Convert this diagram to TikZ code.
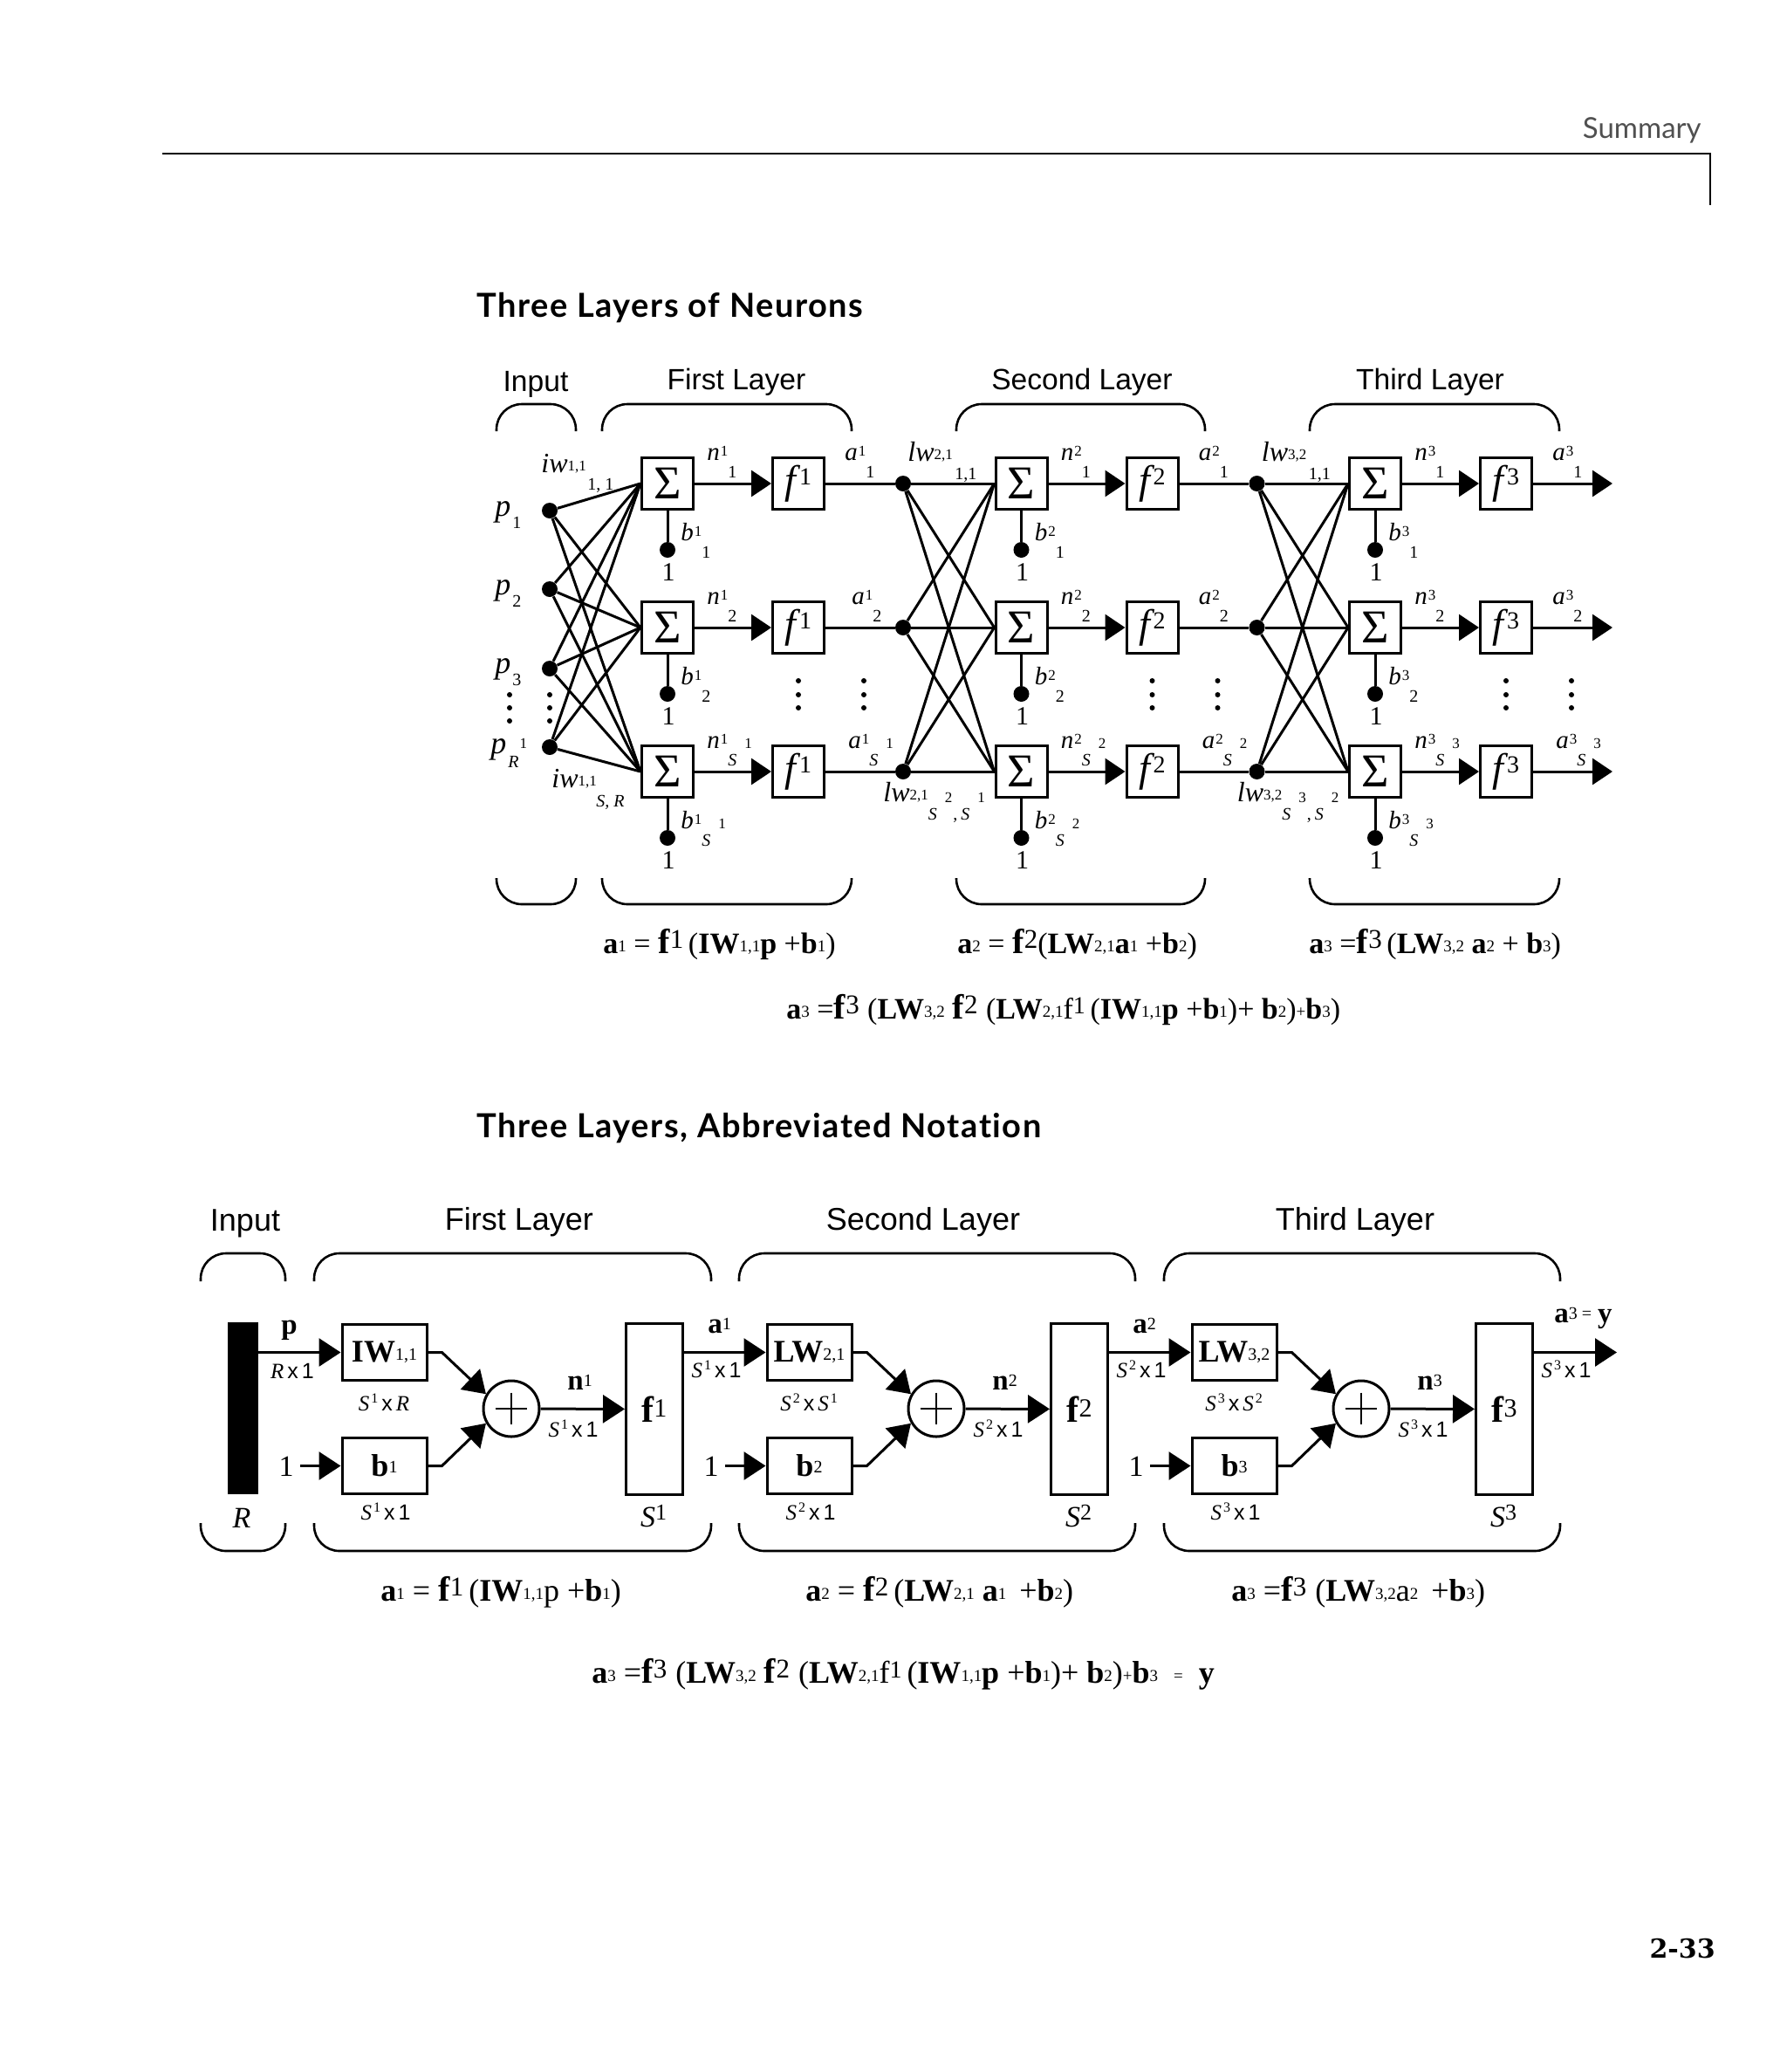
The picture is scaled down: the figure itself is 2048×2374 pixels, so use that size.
\documentclass[tikz,border=0pt]{standalone}
\usepackage{fontspec}
\setmainfont{Liberation Serif}
\setsansfont{Liberation Sans}
\newfontfamily\titlefont[LetterSpace=4,Ligatures=CommonOff]{Lato}
\newfontfamily\headfont{Lato}
\newfontfamily\pagefont{DejaVu Serif}
\usepackage{tikz}
\usetikzlibrary{arrows.meta,positioning,calc}
\definecolor{headgray}{RGB}{80,80,80}
% label pieces
\newcommand{\supsz}{\fontsize{8.5}{8.5}\selectfont\upshape}
\newcommand{\subsz}{\fontsize{10}{10}\selectfont}
\newcommand{\ess}[1]{\textit{S}\hspace{4.5pt}\raisebox{10pt}{\supsz #1}}
\newcommand{\netlab}[3]{\textit{#1}\hspace{.5pt}\raisebox{2.5pt}{\supsz #2}\raisebox{-10pt}{\subsz #3}}
\newcommand{\dimS}[1]{\textit{S}\hspace{1pt}\raisebox{4.5pt}{\fontsize{8}{8}\selectfont #1}}
\newcommand{\dimx}{\hspace{2pt}{\sffamily x}\hspace{2pt}}
\newcommand{\dimone}{{\sffamily 1}}
\newcommand{\ei}[1]{\raisebox{1pt}{\fontsize{9.5}{9.5}\selectfont\mdseries #1}}
\newcommand{\bigf}[1]{{\fontsize{20}{20}\selectfont\textbf{f}}\raisebox{3pt}{\fontsize{15.5}{15.5}\selectfont\mdseries #1}}

\begin{document}
\begin{tikzpicture}[x=.5pt,y=-.5pt,>=Stealth,
  wire/.style={line width=1.5pt},
  headtip/.style={-{Triangle[length=11.5pt,width=15pt]},line width=1.5pt},
  bigtip/.style={-{Triangle[length=12.5pt,width=16pt]},line width=1.5pt},
  brace/.style={line width=1.3pt,rounded corners=14.5pt},
  netbox/.style={draw,line width=1.5pt,inner sep=0pt,minimum size=29.5pt},
  blkbox/.style={draw,line width=1.5pt,inner sep=0pt,minimum width=48.5pt,minimum height=32pt,font=\fontsize{18}{18}\selectfont\bfseries},
  dot/.style={circle,fill=black,inner sep=0pt,minimum size=9pt},
  lab/.style={inner sep=0pt,anchor=base west,font=\fontsize{14.5}{14.5}\selectfont},
  wlab/.style={inner sep=0pt,anchor=base west,font=\fontsize{16}{16}\selectfont},
  sublab/.style={inner sep=0pt,anchor=base west,font=\subsz},
  one/.style={inner sep=0pt,font=\fontsize{15}{15}\selectfont},
  layerhead/.style={inner sep=0pt,font=\fontsize{16.8}{16.8}\selectfont\sffamily},
  layerhead2/.style={inner sep=0pt,font=\fontsize{18}{18}\selectfont\sffamily},
  dimlab/.style={inner sep=0pt,font=\fontsize{12.5}{12.5}\selectfont},
  boldlab/.style={inner sep=0pt,anchor=base west,font=\fontsize{16.5}{16.5}\selectfont\bfseries},
  eqn/.style={inner sep=0pt,anchor=base west,font=\fontsize{17}{17}\selectfont\bfseries},
  eqnb/.style={inner sep=0pt,anchor=base west,font=\fontsize{18}{18}\selectfont\bfseries},
  title/.style={inner sep=0pt,anchor=base west,font=\fontsize{19}{19}\selectfont\titlefont\bfseries}]
  \useasboundingbox (0,0) rectangle (2048,2374);
  % page furniture
  \node[inner sep=0pt,anchor=base east,text=headgray,font=\fontsize{16.5}{16.5}\selectfont\headfont] (summary) at (1950,158) {Summary};
  \draw[line width=.7pt] (186,176) -- (1960,176) -- (1960,235);
  \node[title] (title1) at (546,363) {Three Layers of Neurons};
  \node[title] (title2) at (546,1303) {Three Layers, Abbreviated Notation};
  \node[inner sep=0pt,anchor=base east,font=\fontsize{15}{15}\selectfont\pagefont\bfseries] (page) at (1966,2243) {2-33};

  % full network
  \node[layerhead] (hin) at (614,440) {Input};
  \node[layerhead] (h1) at (844,438) {First Layer};
  \node[layerhead] (h2) at (1240,438) {Second Layer};
  \node[layerhead] (h3) at (1639,438) {Third Layer};
  \foreach \xa/\xb in {569/660,690/976,1096/1381,1501/1787}{
    \draw[brace] (\xa,494) -- (\xa,463) -- (\xb,463) -- (\xb,494);
    \draw[brace] (\xa,1006) -- (\xa,1036) -- (\xb,1036) -- (\xb,1006);
  }
  \foreach \l [evaluate=\l as \dx using (\l-1)*405.5] in {1,2,3}{
    \foreach \r/\y/\ax/\tag in {1/554/968/1,2/719/968/2,3/884/972/{\ess{\l}}}{
      \pgfmathsetmacro{\adj}{and(\l==1,\r==2)?8:0}
      \node[netbox,font=\fontsize{27}{27}\selectfont] (s\l\r) at (765+\dx,\y) {Σ};
      \node[netbox,font=\fontsize{23}{23}\selectfont] (f\l\r) at (915+\dx,\y) {\textit{f}\hspace{-1pt}\raisebox{5pt}{\fontsize{14}{14}\selectfont\l}};
      \node[dot] (b\l\r) at (765+\dx,\y+76) {};
      \node[one] (u\l\r) at (766+\dx,\y+102) {1};
      \draw[wire] (s\l\r) -- (b\l\r);
      \draw[headtip] (s\l\r) -- (f\l\r);
      \node[lab] (n\l\r) at (810+\dx,\y-27) {\netlab{n}{\l}{\tag}};
      \node[lab] (a\l\r) at (\ax+\adj+\dx,\y-27) {\netlab{a}{\l}{\tag}};
      \node[lab] (bl\l\r) at (780+\dx,\y+65) {\netlab{b}{\l}{\tag}};
    }
    \foreach \x in {915,990}\foreach \y in {780,796,811}{\fill (\x+\dx,\y) circle[radius=3];}
  }
  % input dots
  \node[dot] (p1) at (630,585) {};
  \node[dot] (p2) at (630,675) {};
  \node[dot] (p3) at (630,766) {};
  \node[dot] (pR) at (630,856) {};
  \foreach \x in {584,630}\foreach \y in {796,811,826}{\fill (\x,\y) circle[radius=3];}
  \foreach \i in {p1,p2,p3,pR}\foreach \r in {1,2,3}{\draw[wire] (\i) -- (s1\r.west);}
  \node[wlab,font=\fontsize{18}{18}\selectfont] (lp1) at (567,591) {\textit{p}\raisebox{-7pt}{\subsz\hspace{1pt}1}};
  \node[wlab,font=\fontsize{18}{18}\selectfont] (lp2) at (567,681) {\textit{p}\raisebox{-7pt}{\subsz\hspace{1pt}2}};
  \node[wlab,font=\fontsize{18}{18}\selectfont] (lp3) at (567,771) {\textit{p}\raisebox{-7pt}{\subsz\hspace{1pt}3}};
  \node[wlab,font=\fontsize{18}{18}\selectfont] (lpR) at (562,863) {\textit{p}\raisebox{-8pt}{\subsz\hspace{1pt}\textit{R}}\raisebox{3pt}{\supsz\hspace{.5pt}1}};
  \node[wlab] (iw1) at (620,541) {\textit{iw}\raisebox{1pt}{\supsz 1,1}};
  \node[sublab] (iw1s) at (673,561) {1, 1};
  \node[wlab] (iw2) at (632,902) {\textit{iw}\raisebox{1pt}{\supsz 1,1}};
  \node[sublab,font=\subsz\itshape] (iw2s) at (683,924) {S, R};
  % layer to layer wiring
  \foreach \l/\m in {1/2,2/3}{
    \foreach \r/\y in {1/554,2/719,3/884}{
      \node[dot] (d\l\r) at (1035+\l*405.5-405.5,\y) {};
      \draw[wire] (f\l\r) -- (d\l\r) -- (s\m\r.west);
    }
    \foreach \r in {1,2,3}\foreach \q in {1,2,3}{\draw[wire] (d\l\r) -- (s\m\q.west);}
    \node[wlab] (lw\m) at (1040+\l*405.5-405.5,528) {\textit{lw}\raisebox{1pt}{\supsz \m,\l}};
    \node[sublab] (lwa\m) at (1094+\l*405.5-405.5,549) {1,1};
    \node[wlab] (lwb\m) at (1012+\l*405.5-405.5,918) {\textit{lw}\raisebox{1pt}{\supsz \m,\l}\raisebox{-10.5pt}{\subsz\ess{\m}\hspace{.5pt},\hspace{2pt}\ess{\l}}};
  }
  \foreach \r/\y in {1/554,2/719,3/884}{
    \coordinate (o\r) at (1848,\y);
    \draw[headtip] (f3\r) -- (o\r);
  }
  \node[eqn] (e1) at (691,1092) {a\ei{1} \textmd{=} \bigf{1}\mdseries\,(\textbf{IW}\ei{1,1}\textbf{p} +\textbf{b}\ei{1})};
  \node[eqn] (e2) at (1097,1092) {a\ei{2} \textmd{=} \bigf{2}\mdseries(\textbf{LW}\ei{2,1}\textbf{a}\ei{1} +\textbf{b}\ei{2})};
  \node[eqn] (e3) at (1500,1092) {a\ei{3} \textmd{=}\bigf{3}\mdseries\,(\textbf{LW}\ei{3,2} \textbf{a}\ei{2} + \textbf{b}\ei{3})};
  \node[eqn] (e4) at (901,1167) {a\ei{3} \textmd{=}\bigf{3}\mdseries\;(\textbf{LW}\ei{3,2} \bigf{2}\;(\textbf{LW}\ei{2,1}f\raisebox{3pt}{\fontsize{14}{14}\selectfont 1}\,(\textbf{IW}\ei{1,1}\textbf{p} +\textbf{b}\ei{1})+ \textbf{b}\ei{2})\ei{+}\textbf{b}\ei{3})};

  % abbreviated network
  \node[layerhead2] (hhin) at (281,1402) {Input};
  \node[layerhead2] (hh1) at (595,1400) {First Layer};
  \node[layerhead2] (hh2) at (1058,1400) {Second Layer};
  \node[layerhead2] (hh3) at (1553,1400) {Third Layer};
  \foreach \xa/\xb in {230/327,360/815,847/1301,1334/1788}{
    \draw[brace] (\xa,1468) -- (\xa,1436) -- (\xb,1436) -- (\xb,1468);
    \draw[brace] (\xa,1745) -- (\xa,1777) -- (\xb,1777) -- (\xb,1745);
  }
  \node[fill=black,inner sep=0pt,minimum width=17.5pt,minimum height=98.5pt] (bar) at (278.5,1613.5) {};
  \node[inner sep=0pt,font=\fontsize{17}{17}\selectfont\itshape] (rr) at (277,1739) {R};
  \foreach \l/\wname/\wsub/\dimw [evaluate=\l as \dx using (\l-1)*487] in
    {1/IW/{1,1}/{\textit{R}},2/LW/{2,1}/{\dimS{1}},3/LW/{3,2}/{\dimS{2}}}{
    \node[blkbox] (w\l) at (440.5+\dx,1549.5) {\wname\raisebox{1pt}{\fontsize{10}{10}\selectfont\mdseries\wsub}};
    \node[blkbox] (b\l) at (440.5+\dx,1679.5) {b\raisebox{2pt}{\fontsize{10}{10}\selectfont\mdseries\l}};
    \node[circle,draw,line width=1.5pt,inner sep=0pt,minimum size=32pt] (sum\l) at (586+\dx,1614) {};
    \draw[line width=1.1pt] (sum\l.west) ++(15,0) -- ++(36,0);
    \draw[line width=1.1pt] (sum\l.north) ++(0,15) -- ++(0,36);
    \node[draw,line width=1.5pt,inner sep=0pt,minimum width=32.5pt,minimum height=98pt,font=\fontsize{21}{21}\selectfont\bfseries] (f\l) at (750+\dx,1614.5) {f\raisebox{3pt}{\fontsize{15}{15}\selectfont\mdseries\l}};
    \draw[bigtip] (w\l.east) -- ++(16,0) -- (sum\l.150);
    \draw[bigtip] (b\l.east) -- ++(16,0) -- (sum\l.210);
    \draw[bigtip] (sum\l) -- (f\l);
    \coordinate (c\l) at (344+\dx,1679.5);
    \node[one,font=\fontsize{17}{17}\selectfont] (one\l) at (328+\dx,1680) {1};
    \draw[bigtip] (c\l) -- (b\l.west);
    \node[dimlab] (dw\l) at (440+\dx,1607) {\dimS{\l}\dimx\dimw};
    \node[dimlab] (db\l) at (442+\dx,1732) {\dimS{\l}\dimx\dimone};
    \node[dimlab] (dn\l) at (657+\dx,1637) {\dimS{\l}\dimx\dimone};
    \node[dimlab] (da\l) at (821+\dx,1569) {\dimS{\l}\dimx\dimone};
    \node[boldlab] (nb\l) at (650+\dx,1592) {n\raisebox{2pt}{\fontsize{10}{10}\selectfont\mdseries\l}};
    \node[inner sep=0pt,font=\fontsize{17}{17}\selectfont\itshape] (sf\l) at (749+\dx,1737) {S\raisebox{4pt}{\fontsize{13}{13}\selectfont\upshape\l}};
  }
  \draw[bigtip] (bar.east |- w1.west) -- (w1.west);
  \draw[bigtip] (f1.east |- w2.west) -- (w2.west);
  \draw[bigtip] (f2.east |- w3.west) -- (w3.west);
  \coordinate (out) at (1853,1549.5);
  \draw[bigtip] (f3.east |- out) -- (out);
  \node[boldlab] (pb) at (322,1528) {p};
  \node[dimlab] (rx) at (335,1571) {\textit{R}\dimx\dimone};
  \node[boldlab] (a1) at (811,1527) {a\raisebox{2pt}{\fontsize{10}{10}\selectfont\mdseries 1}};
  \node[boldlab] (a2) at (1298,1527) {a\raisebox{2pt}{\fontsize{10}{10}\selectfont\mdseries 2}};
  \node[boldlab] (a3) at (1781,1515) {a\raisebox{2pt}{\fontsize{10}{10}\selectfont\mdseries 3 = }\hspace{1pt}y};
  \node[eqnb] (g1) at (436,1834) {a\ei{1} \textmd{=} \bigf{1}\mdseries\,(\textbf{IW}\ei{1,1}p +\textbf{b}\ei{1})};
  \node[eqnb] (g2) at (923,1834) {a\ei{2} \textmd{=} \bigf{2}\mdseries\,(\textbf{LW}\ei{2,1} \textbf{a}\ei{1} \,+\textbf{b}\ei{2})};
  \node[eqnb] (g3) at (1411,1834) {a\ei{3} \textmd{=}\bigf{3}\mdseries\;(\textbf{LW}\ei{3,2}a\ei{2} \,+\textbf{b}\ei{3})};
  \node[eqnb] (g4) at (678,1928) {a\ei{3} \textmd{=}\bigf{3}\mdseries\;(\textbf{LW}\ei{3,2} \bigf{2}\;(\textbf{LW}\ei{2,1}f\raisebox{3pt}{\fontsize{14}{14}\selectfont 1}\,(\textbf{IW}\ei{1,1}\textbf{p} +\textbf{b}\ei{1})+ \textbf{b}\ei{2})\ei{+}\textbf{b}\ei{3}\ \ \ei{=}\ \ \textbf{y}};
\end{tikzpicture}
\end{document}
